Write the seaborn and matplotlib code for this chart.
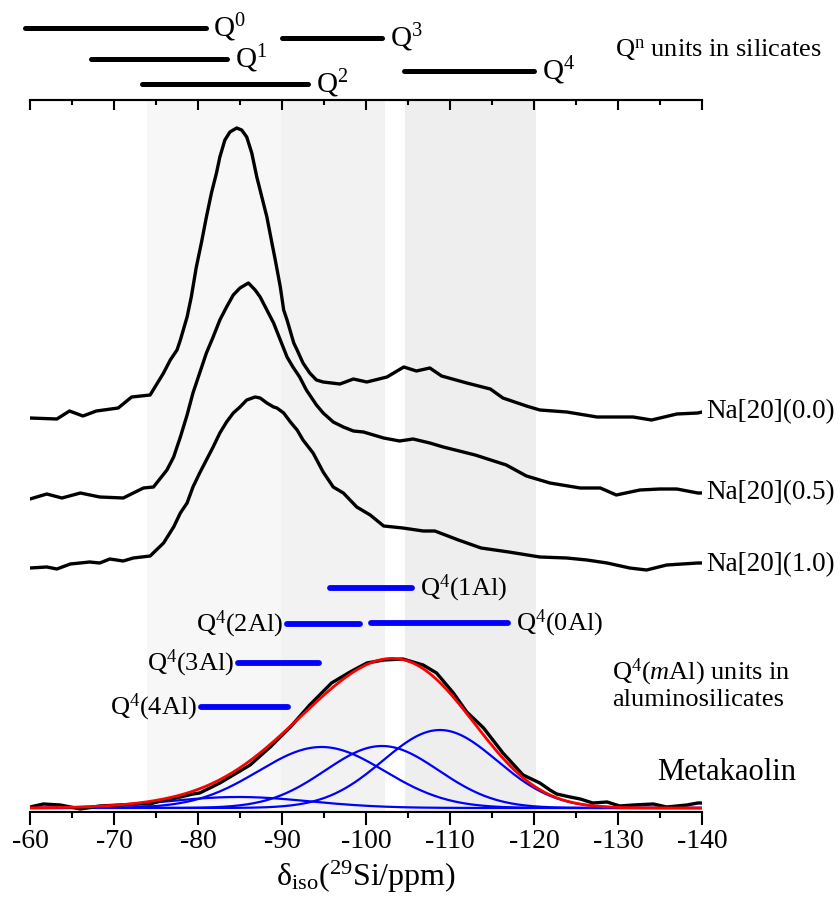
import numpy as np
import pandas as pd
import seaborn as sns
import matplotlib.pyplot as plt
from matplotlib.ticker import MultipleLocator

# chemical shift (ppm) and stacked intensity (a.u.)
ppm_00 = [-60, -63.2, -64.7, -66.3, -67.9, -70.5, -72.1, -74.3, -75.9, -76.7, -77.5, -77.9, -78.7,
          -79.2, -79.8, -80.4, -81.0, -81.6, -82.2, -82.6, -83.2, -83.8, -84.6, -85.2, -85.8,
          -86.4, -87.0, -87.6, -88.2, -88.8, -89.2, -89.8, -90.2, -90.6, -91.4, -91.8, -92.5,
          -93.3, -94.1, -94.9, -96.9, -98.5, -100.1, -102.5, -104.5, -106.0, -107.6, -109.0,
          -112.0, -114.8, -116.3, -119.1, -120.7, -123.9, -127.5, -131.8, -134.0, -137.0,
          -139.5, -140]
int_00 = [394, 393, 401, 396, 401, 404, 415, 417, 439, 452, 462, 472, 495,
          515, 545, 569, 595, 619, 639, 655, 672, 680, 684, 682, 675,
          659, 635, 615, 595, 569, 552, 525, 502, 492, 469, 462, 449,
          439, 432, 430, 428, 433, 430, 435, 445, 441, 444, 436,
          429, 423, 414, 406, 402, 400, 395, 395, 392, 398,
          399, 400]

ppm_05 = [-60, -62, -63.8, -66, -68.3, -71.1, -73.5, -74.7, -76.3, -77.1, -77.9, -78.7, -79.4,
          -80.2, -81.0, -81.8, -82.6, -83.4, -84.2, -85.0, -86.0, -86.8, -87.4, -88.2, -89.0,
          -89.8, -90.6, -91.3, -92.1, -92.9, -94.1, -94.9, -96.1, -97.3, -98.5, -99.7, -102.1,
          -104.0, -105.6, -107.6, -109.2, -113.0, -116.7, -119.1, -121.9, -125.5, -127.9,
          -129.8, -132.6, -135.0, -137.0, -139.5, -140]
int_05 = [313, 318, 314, 319, 315, 314, 324, 325, 342, 355, 375, 397, 419,
          439, 459, 475, 492, 505, 517, 524, 529, 522, 515, 502, 489,
          472, 455, 445, 435, 422, 407, 399, 390, 385, 381, 380, 374,
          371, 373, 369, 365, 357, 347, 336, 329, 324, 324,
          317, 322, 323, 323, 319, 319]

ppm_10 = [-60, -62, -63.2, -64.8, -67.1, -68.3, -69.5, -71.1, -72.3, -74.3, -75.9, -77.1, -77.9,
          -78.7, -79.4, -80.2, -81.0, -81.8, -82.6, -83.4, -84.2, -85.0, -85.8, -86.8, -87.4,
          -88.2, -89.0, -89.4, -90.2, -91.0, -91.8, -92.5, -93.7, -94.9, -96.1, -97.3, -98.9,
          -100.5, -102.1, -104.4, -106.8, -108.2, -111.0, -113.7, -117.0, -120.7, -123.9,
          -126.3, -128.7, -131.4, -133.4, -135.8, -139.5, -140]
int_10 = [244, 245, 243, 248, 250, 249, 253, 251, 254, 256, 269, 285, 299,
          309, 325, 339, 352, 365, 379, 390, 399, 405, 412, 415, 414,
          409, 405, 404, 399, 390, 382, 372, 359, 340, 325, 319, 305,
          297, 286, 284, 281, 281, 272, 264, 260, 255, 254,
          252, 249, 244, 242, 247, 249, 249]

ppm_mk = [-60, -61.6, -63.6, -66, -68.3, -70.7, -73.1, -74.3, -75.5, -76.7, -77.9, -79.4, -80.2,
          -82.6, -84.6, -86.2, -88.6, -91.0, -93.3, -95.9, -98.1, -100.1, -102.1, -104.4, -106.8,
          -108.4, -110.4, -112.0, -114.0, -116.3, -118.7, -120.7, -121.9, -122.7, -124.3, -125.5,
          -127.0, -128.7, -130.2, -131.8, -134.2, -135.8, -138.2, -139.5, -140]
int_mk = [5, 8, 7, 3, 6, 7, 8, 8, 11, 13, 15, 18, 19,
          29, 39, 47, 65, 85, 107, 129, 140, 149, 152, 153, 147,
          139, 119, 100, 84, 59, 37, 29, 22, 18, 15, 13,
          9, 10, 6, 7, 8, 5, 7, 9, 9]

# Gaussian fit components of metakaolin: Q4(4Al), Q4(2-3Al), Q4(1Al), Q4(0Al)
fit_center = [-84.8, -94.7, -101.9, -108.8]
fit_height = [11, 61, 62, 78]
fit_sigma = [8.5, 7.5, 6.75, 6.8]
fit_base = 4

spectra_labels = ["Na[20](0.0)", "Na[20](0.5)", "Na[20](1.0)"]
spectra_label_y = [400, 319, 247]

# Q^n ranges in silicates (ppm)
qn_names = ["0", "1", "2", "3", "4"]
qn_start = [-59.4, -67.3, -73.3, -90.0, -104.5]
qn_end = [-80.9, -83.5, -93.1, -101.9, -120.0]
qn_level = [784, 753, 728, 774, 741]

# Q4(mAl) ranges in aluminosilicates (ppm)
qal_names = ["1Al", "2Al", "0Al", "3Al", "4Al"]
qal_start = [-95.7, -90.6, -100.6, -84.8, -80.4]
qal_end = [-105.5, -99.3, -116.9, -94.4, -90.7]
qal_level = [224, 188, 189, 149, 105]
qal_side = ["right", "left", "right", "left", "left"]

sns.set_style("white")
plt.rcParams['font.family'] = ['Liberation Serif', 'DejaVu Serif']
plt.rcParams['mathtext.fontset'] = 'custom'
plt.rcParams['mathtext.rm'] = 'Liberation Serif'
plt.rcParams['mathtext.it'] = 'Liberation Serif:italic'
plt.rcParams['axes.unicode_minus'] = False
plt.rcParams['text.color'] = 'black'
plt.rcParams['axes.labelcolor'] = 'black'
plt.rcParams['xtick.color'] = 'black'

fig = plt.figure(figsize=(8.4, 9.05), dpi=100)
ax = fig.add_axes([30 / 840, 93 / 905, 672 / 840, 712 / 905])

# shaded chemical shift windows
ax.axvspan(-73.9, -89.9, color='#f7f7f7', lw=0, zorder=0)
ax.axvspan(-89.9, -102.3, color='#f2f2f2', lw=0, zorder=0)
ax.axvspan(-104.6, -120.2, color='#eeeeee', lw=0, zorder=0)

grid = np.linspace(-60, -140, 400)
total = np.full_like(grid, fit_base, dtype=float)
for c, h, s in zip(fit_center, fit_height, fit_sigma):
    comp = h * np.exp(-(grid - c) ** 2 / (2 * s ** 2))
    total += comp
    sns.lineplot(x=grid, y=comp + fit_base, ax=ax, color='#0000ff', lw=1.6, sort=False, zorder=2)

for xs, ys in [(ppm_00, int_00), (ppm_05, int_05), (ppm_10, int_10), (ppm_mk, int_mk)]:
    df = pd.DataFrame({"ppm": xs, "intensity": ys})
    sns.lineplot(data=df, x="ppm", y="intensity", ax=ax, color='black', lw=2.4, sort=False,
                 zorder=3, solid_joinstyle='round', solid_capstyle='round')

sns.lineplot(x=grid, y=total, ax=ax, color='#ff0000', lw=2.0, sort=False, zorder=4)

# Q^n bars above the axis
for n, a, b, lev in zip(qn_names, qn_start, qn_end, qn_level):
    ax.plot([a, b], [lev, lev], color='black', lw=3.6, solid_capstyle='round', clip_on=False)
    ax.text(b - 0.9, lev, "Q$^{%s}$" % n, fontsize=21, ha='left', va='center', clip_on=False)
ax.text(-129.6, 762, "Q$^{\\mathregular{n}}$ units in silicates", fontsize=19,
        ha='left', va='center', clip_on=False)

# Q4(mAl) bars
for n, a, b, lev, side in zip(qal_names, qal_start, qal_end, qal_level, qal_side):
    ax.plot([a, b], [lev, lev], color='#0000ff', lw=4.2, solid_capstyle='round', zorder=5)
    if side == "right":
        ax.text(b - 0.9, lev, "Q$^4$(%s)" % n, fontsize=19, ha='left', va='center')
    else:
        ax.text(a + 0.5, lev, "Q$^4$(%s)" % n, fontsize=19, ha='right', va='center')

ax.text(-129.3, 128, "Q$^{\\mathregular{4}}$($m$Al) units in\naluminosilicates", fontsize=19,
        ha='left', va='center', linespacing=1.05)
ax.text(-134.6, 40, "Metakaolin", fontsize=22, ha='left', va='center')

for lab, lev in zip(spectra_labels, spectra_label_y):
    ax.text(-140.5, lev, lab, fontsize=19.5, ha='left', va='center', clip_on=False)

ax.set_xlim(-60, -140)
ax.set_ylim(0, 712)
ax.set_yticks([])
ax.set_ylabel("")
for side in ["left", "right"]:
    ax.spines[side].set_visible(False)
for side in ["top", "bottom"]:
    ax.spines[side].set_linewidth(1.5)
    ax.spines[side].set_color('black')

ax.xaxis.set_major_locator(MultipleLocator(10))
ax.xaxis.set_minor_locator(MultipleLocator(5))
ax.tick_params(axis='x', which='major', direction='out', length=9, width=1.5,
               labelsize=20, pad=3, bottom=True, top=False)
ax.tick_params(axis='x', which='minor', direction='out', length=4.5, width=1.5, bottom=True, top=False)

top = ax.secondary_xaxis('top')
top.xaxis.set_major_locator(MultipleLocator(10))
top.xaxis.set_minor_locator(MultipleLocator(5))
top.tick_params(axis='x', which='major', direction='in', length=7, width=1.5, labeltop=False)
top.tick_params(axis='x', which='minor', direction='in', length=3.5, width=1.5)
top.spines['top'].set_linewidth(1.5)

ax.set_xlabel("δ$_{\\mathregular{iso}}$($^{\\mathregular{29}}$Si/ppm)", fontsize=23, labelpad=4)

fig.savefig("out.png", dpi=100)
